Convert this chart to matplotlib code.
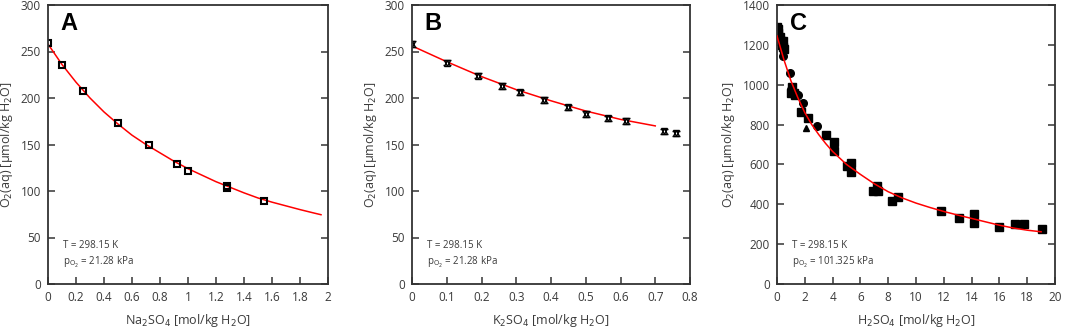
import matplotlib

matplotlib.use("Agg")
import matplotlib.pyplot as plt

plt.rcParams["font.family"] = ["Open Sans", "DejaVu Sans"]
TXT = "#3a3a3a"

# ---- panel A: Na2SO4
na_x = [0.0, 0.1, 0.25, 0.5, 0.72, 0.92, 1.0, 1.28, 1.28, 1.54]
na_y = [259, 235, 208, 173, 149, 129, 122, 103, 105, 89]
na_fit_x = [0.0, 0.1, 0.2, 0.3, 0.4, 0.5, 0.6, 0.7, 0.8, 0.9, 1.0,
            1.1, 1.2, 1.3, 1.4, 1.5, 1.6, 1.7, 1.8, 1.9, 1.95]
na_fit_y = [258, 236, 217, 200, 185, 172, 160, 150, 141, 132, 124,
            117, 110, 104, 98, 92.5, 88, 84, 80, 76.3, 74.5]

# ---- panel B: K2SO4
k_x = [0.0, 0.1, 0.19, 0.26, 0.31, 0.38, 0.45, 0.50, 0.565, 0.615, 0.725, 0.76]
k_y = [258, 238, 224, 213, 206, 198, 190, 183, 178, 175, 164, 162]
k_err = [3] * len(k_x)
k_fit_x = [0.0, 0.1, 0.2, 0.3, 0.4, 0.5, 0.6, 0.7]
k_fit_y = [256, 239, 223, 209, 197, 186, 177, 170]

# ---- panel C: H2SO4
h_sq_x = [0.0, 0.0, 0.05, 0.1, 0.2, 0.3, 0.35, 0.4, 0.45, 0.5, 1.0, 1.1, 1.2, 1.3,
          1.7, 2.2, 3.5, 4.1, 4.1, 5.0, 5.3, 5.3, 6.9, 7.2, 7.3, 8.3, 8.7,
          11.8, 13.1, 14.2, 14.2, 16.0, 17.1, 17.8, 19.1]
h_sq_y = [1290, 1275, 1260, 1280, 1240, 1220, 1200, 1220, 1190, 1180, 960, 990, 960, 950,
          865, 835, 750, 715, 665, 590, 605, 560, 465, 490, 465, 415, 435,
          365, 330, 350, 305, 285, 300, 300, 275]
h_ci_x = [0.4, 0.9, 1.5, 1.9, 2.9]
h_ci_y = [1145, 1060, 950, 910, 795]
h_tr_x = [0.9, 2.1]
h_tr_y = [995, 785]
h_fit_x = [0, 0.5, 1, 1.5, 2, 2.5, 3, 3.5, 4, 5, 6, 7, 8, 9, 10,
           11, 12, 13, 14, 15, 16, 17, 18, 19]
h_fit_y = [1245, 1125, 1020, 935, 860, 800, 750, 705, 665, 600, 550, 503, 463, 432, 406,
           384, 364, 346, 329, 312, 295, 281, 270, 262]

W, H = 1065, 331
fig = plt.figure(figsize=(W / 100, H / 100), dpi=100)
bottom, height = 1 - 284 / H, 279 / H
axA = fig.add_axes([48 / W, bottom, 280 / W, height])
axB = fig.add_axes([412 / W, bottom, 278 / W, height])
axC = fig.add_axes([777 / W, bottom, 278 / W, height])


def style(ax, xlim, ylim, xticks, yticks, xlabel, letter, cond):
    ax.set_xlim(*xlim)
    ax.set_ylim(*ylim)
    ax.set_xticks(xticks)
    ax.set_yticks(yticks)
    ax.set_xticklabels([f"{t:g}" for t in xticks])
    ax.tick_params(direction="in", length=5, width=1.2, labelsize=8.5, colors="#444",
                   labelcolor=TXT, right=True, pad=5)
    for s in ax.spines.values():
        s.set_linewidth(1.3)
        s.set_color("#333")
    ax.set_xlabel(xlabel, fontsize=9, color=TXT, labelpad=6)
    ax.set_ylabel(r"O$_2$(aq) [μmol/kg H$_2$O]", fontsize=9, color=TXT, labelpad=4)
    ax.text(0.045, 0.975, letter, transform=ax.transAxes, fontsize=17, fontweight="bold",
            family="Liberation Sans", va="top", ha="left")
    ax.text(0.055, 0.13, "T = 298.15 K", transform=ax.transAxes, fontsize=7, color=TXT)
    ax.text(0.055, 0.068, r"p$_{\mathrm{O_2}}$ = " + cond, transform=ax.transAxes,
            fontsize=7, color=TXT)


axA.plot(na_fit_x, na_fit_y, color="red", lw=1.1)
axA.plot(na_x, na_y, ls="none", marker="s", ms=4.8, mfc="none", mec="black", mew=1.5)
style(axA, (0, 2), (0, 300), [0, 0.2, 0.4, 0.6, 0.8, 1, 1.2, 1.4, 1.6, 1.8, 2],
      range(0, 301, 50), r"Na$_2$SO$_4$ [mol/kg H$_2$O]", "A", "21.28 kPa")

axB.plot(k_fit_x, k_fit_y, color="red", lw=1.1)
axB.errorbar(k_x, k_y, yerr=k_err, ls="none", ecolor="black", elinewidth=1, capsize=3)
axB.plot(k_x, k_y, ls="none", marker="^", ms=5, mfc="white", mec="black", mew=1)
axB.plot(k_x, k_y, ls="none", marker="v", ms=5, mfc="none", mec="black", mew=1)
style(axB, (0, 0.8), (0, 300), [0, 0.1, 0.2, 0.3, 0.4, 0.5, 0.6, 0.7, 0.8],
      range(0, 301, 50), r"K$_2$SO$_4$ [mol/kg H$_2$O]", "B", "21.28 kPa")

axC.plot(h_fit_x, h_fit_y, color="red", lw=1.1, zorder=3)
axC.plot(h_sq_x, h_sq_y, ls="none", marker="s", ms=6, color="black")
axC.plot(h_ci_x, h_ci_y, ls="none", marker="o", ms=5.5, color="black")
axC.plot(h_tr_x, h_tr_y, ls="none", marker="^", ms=5, color="black")
style(axC, (0, 20), (0, 1400), range(0, 21, 2), range(0, 1401, 200),
      r"H$_2$SO$_4$ [mol/kg H$_2$O]", "C", "101.325 kPa")

fig.savefig("out.png", dpi=100)
